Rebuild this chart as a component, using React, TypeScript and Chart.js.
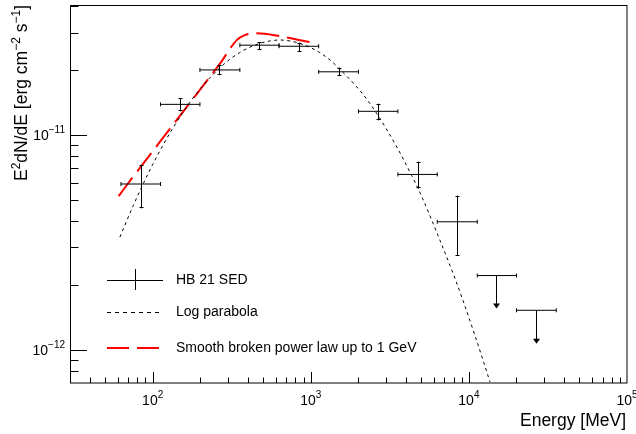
import React, { useEffect, useRef } from "react";
import { Chart, registerables } from "chart.js";

Chart.register(...registerables);

// ---- SED data points (HB 21) ----
const sedEnergy = [84.8, 149.6, 263, 471, 839, 1503, 2667, 4732, 8395];
const sedBinLow = [63, 112, 199, 356, 630, 1122, 2004, 3556, 6310];
const sedBinHigh = [112, 199, 356, 630, 1122, 2004, 3556, 6310, 11300];
const sedFlux = [5.92e-12, 1.39e-11, 2.01e-11, 2.62e-11, 2.59e-11, 1.97e-11, 1.29e-11, 6.56e-12, 3.95e-12];
const sedFluxHigh = [7.27e-12, 1.48e-11, 2.12e-11, 2.7e-11, 2.69e-11, 2.06e-11, 1.4e-11, 7.52e-12, 5.22e-12];
const sedFluxLow = [4.56e-12, 1.29e-11, 1.9e-11, 2.5e-11, 2.44e-11, 1.88e-11, 1.17e-11, 5.65e-12, 2.75e-12];

// ---- Upper limits ----
const ulEnergy = [14900, 26550];
const ulBinLow = [11300, 20000];
const ulBinHigh = [20000, 35700];
const ulFlux = [2.22e-12, 1.53e-12];
const ulArrowTip = [1.56e-12, 1.07e-12];

// ---- Log parabola model curve ----
const logParEnergy = [62, 75, 85, 100, 111, 134, 163, 200, 229, 270, 307, 355, 410, 476, 550, 636, 740, 851, 1000, 1140, 1330, 1530, 1800, 2150, 2670, 3500, 4340, 5020, 6550, 8000, 9200, 11000, 13600];
const logParFlux = [3.35e-12, 4.66e-12, 5.71e-12, 7.29e-12, 8.44e-12, 1.076e-11, 1.343e-11, 1.644e-11, 1.841e-11, 2.075e-11, 2.25e-11, 2.42e-11, 2.56e-11, 2.67e-11, 2.74e-11, 2.77e-11, 2.74e-11, 2.67e-11, 2.55e-11, 2.42e-11, 2.23e-11, 2.02e-11, 1.79e-11, 1.54e-11, 1.23e-11, 8.8e-12, 6.5e-12, 5.2e-12, 3.25e-12, 2.24e-12, 1.69e-12, 1.15e-12, 7.1e-13];

// ---- Smooth broken power law (up to 1 GeV) ----
const sbplEnergy = [60.9, 75, 98.1, 128.1, 171.5, 229.5, 273.4, 307.2, 340.2, 382.2, 442.2, 511.5, 636.6, 812.2, 985.6];
const sbplFlux = [5.2e-12, 6.38e-12, 8.25e-12, 1.066e-11, 1.409e-11, 1.861e-11, 2.209e-11, 2.512e-11, 2.766e-11, 2.918e-11, 2.975e-11, 2.965e-11, 2.886e-11, 2.786e-11, 2.707e-11];

// ---- Axes ----
const xMin = 30;
const xMax = 1e5;
const yMin = 7.02e-13;
const yMax = 4.03e-11;
const xMajorTicks = [100, 1000, 10000, 100000];
const xTickExponents = ["2", "3", "4", "5"];
const yMajorTicks = [1e-12, 1e-11];
const yTickExponents = ["\u221212", "\u221211"];

const legendLabels = ["HB 21 SED", "Log parabola", "Smooth broken power law up to 1 GeV"];
const xTitle = [{ t: "Energy [MeV]" }];
const yTitle = [
  { t: "E" },
  { t: "2", sup: true },
  { t: "dN/dE [erg cm" },
  { t: "\u22122", sup: true },
  { t: " s" },
  { t: "\u22121", sup: true },
  { t: "]" },
];

const FONT = '"Liberation Sans", Arial, Helvetica, sans-serif';

type Seg = { t: string; sup?: boolean };

function drawRich(
  ctx: CanvasRenderingContext2D,
  segs: Seg[],
  x: number,
  y: number,
  size: number,
  supSize: number,
  supRaise: number,
  align: "left" | "right" | "center"
) {
  const widths = segs.map((s) => {
    ctx.font = `${s.sup ? supSize : size}px ${FONT}`;
    return ctx.measureText(s.t).width;
  });
  const total = widths.reduce((a, b) => a + b, 0);
  let cx = align === "left" ? x : align === "right" ? x - total : x - total / 2;
  ctx.textAlign = "left";
  ctx.textBaseline = "alphabetic";
  segs.forEach((s, i) => {
    ctx.font = `${s.sup ? supSize : size}px ${FONT}`;
    ctx.fillText(s.t, cx, s.sup ? y - supRaise : y);
    cx += widths[i];
  });
}

const rootPlugin = {
  id: "rootStyle",
  afterDatasetsDraw(chart: any) {
    const ctx: CanvasRenderingContext2D = chart.ctx;
    const xs = chart.scales.x;
    const ys = chart.scales.y;
    const { left, right, top, bottom } = chart.chartArea;
    ctx.save();
    ctx.beginPath();
    ctx.rect(left, top, right - left, bottom - top);
    ctx.clip();
    ctx.strokeStyle = "#000";
    ctx.fillStyle = "#000";
    ctx.lineWidth = 1;
    const cap = 2;
    // SED error bars
    sedEnergy.forEach((e, i) => {
      const px = xs.getPixelForValue(e);
      const py = ys.getPixelForValue(sedFlux[i]);
      const xl = xs.getPixelForValue(sedBinLow[i]);
      const xh = xs.getPixelForValue(sedBinHigh[i]);
      const yh = ys.getPixelForValue(sedFluxHigh[i]);
      const yl = ys.getPixelForValue(sedFluxLow[i]);
      ctx.beginPath();
      ctx.moveTo(xl, py);
      ctx.lineTo(xh, py);
      ctx.moveTo(xl, py - cap);
      ctx.lineTo(xl, py + cap);
      ctx.moveTo(xh, py - cap);
      ctx.lineTo(xh, py + cap);
      const vx = Math.round(px) + 0.5;
      ctx.moveTo(vx, yh);
      ctx.lineTo(vx, yl);
      ctx.moveTo(vx - cap, Math.round(yh) + 0.5);
      ctx.lineTo(vx + cap, Math.round(yh) + 0.5);
      ctx.moveTo(vx - cap, Math.round(yl) - 0.5);
      ctx.lineTo(vx + cap, Math.round(yl) - 0.5);
      ctx.stroke();
    });
    // Upper limits
    ulEnergy.forEach((e, i) => {
      const px = Math.round(xs.getPixelForValue(e)) + 0.5;
      const py = ys.getPixelForValue(ulFlux[i]);
      const xl = xs.getPixelForValue(ulBinLow[i]);
      const xh = xs.getPixelForValue(ulBinHigh[i]);
      const tip = ys.getPixelForValue(ulArrowTip[i]);
      ctx.beginPath();
      ctx.moveTo(xl, py);
      ctx.lineTo(xh, py);
      ctx.moveTo(xl, py - cap);
      ctx.lineTo(xl, py + cap);
      ctx.moveTo(xh, py - cap);
      ctx.lineTo(xh, py + cap);
      ctx.moveTo(px, py);
      ctx.lineTo(px, tip - 4);
      ctx.stroke();
      ctx.beginPath();
      ctx.moveTo(px - 3.5, tip - 5);
      ctx.lineTo(px + 3.5, tip - 5);
      ctx.lineTo(px, tip);
      ctx.closePath();
      ctx.fill();
    });
    ctx.restore();
  },
  afterDraw(chart: any) {
    const ctx: CanvasRenderingContext2D = chart.ctx;
    const xs = chart.scales.x;
    const ys = chart.scales.y;
    const { left, right, top, bottom } = chart.chartArea;
    ctx.save();
    ctx.strokeStyle = "#000";
    ctx.fillStyle = "#000";
    ctx.lineWidth = 1;
    // frame
    ctx.strokeRect(left + 0.5, top + 0.5, right - left - 0.5, bottom - top - 0.5);
    // x ticks
    ctx.beginPath();
    for (let d = 1; d <= 5; d++) {
      for (let m = 1; m <= 9; m++) {
        const v = m * Math.pow(10, d);
        if (v <= xMin || v >= xMax) continue;
        const px = Math.round(xs.getPixelForValue(v)) + 0.5;
        const len = m === 1 ? 11 : 5.5;
        ctx.moveTo(px, bottom);
        ctx.lineTo(px, bottom - len);
      }
    }
    // y ticks
    for (let d = -13; d <= -10; d++) {
      for (let m = 1; m <= 9; m++) {
        const v = m * Math.pow(10, d);
        if (v <= yMin || v >= yMax) continue;
        const py = Math.round(ys.getPixelForValue(v)) + 0.5;
        const len = m === 1 ? 17 : 8.5;
        ctx.moveTo(left, py);
        ctx.lineTo(left + len, py);
      }
    }
    ctx.stroke();
    // x tick labels
    xMajorTicks.forEach((v, i) => {
      const px = xs.getPixelForValue(v);
      drawRich(ctx, [{ t: "10" }, { t: xTickExponents[i], sup: true }], px, bottom + 22, 14, 10, 7, "center");
    });
    // y tick labels
    yMajorTicks.forEach((v, i) => {
      const py = ys.getPixelForValue(v);
      drawRich(ctx, [{ t: "10" }, { t: yTickExponents[i], sup: true }], left - 5, py + 5, 14, 10, 7, "right");
    });
    // axis titles
    drawRich(ctx, xTitle, right - 1, 426, 17.5, 12, 7, "right");
    ctx.save();
    ctx.translate(27, top);
    ctx.rotate(-Math.PI / 2);
    drawRich(ctx, yTitle, 0, 0, 17.5, 12, 7, "right");
    ctx.restore();

    // legend
    const lx0 = 107;
    const lx1 = 163;
    const tx = 176;
    const rows = [280, 312, 348];
    ctx.beginPath();
    ctx.moveTo(lx0, rows[0] + 0.5);
    ctx.lineTo(lx1, rows[0] + 0.5);
    ctx.moveTo(135.5, rows[0] - 11);
    ctx.lineTo(135.5, rows[0] + 10);
    ctx.stroke();
    ctx.save();
    ctx.setLineDash([4, 4]);
    ctx.beginPath();
    ctx.moveTo(lx0, rows[1] + 0.5);
    ctx.lineTo(lx1, rows[1] + 0.5);
    ctx.stroke();
    ctx.strokeStyle = "#ff0000";
    ctx.lineWidth = 2;
    ctx.setLineDash([22, 8]);
    ctx.beginPath();
    ctx.moveTo(lx0, rows[2]);
    ctx.lineTo(lx1, rows[2]);
    ctx.stroke();
    ctx.restore();
    ctx.font = `14px ${FONT}`;
    ctx.textAlign = "left";
    ctx.textBaseline = "middle";
    legendLabels.forEach((t, i) => ctx.fillText(t, tx, rows[i]));
    ctx.restore();
  },
};

export default function App() {
  const ref = useRef<HTMLCanvasElement | null>(null);
  useEffect(() => {
    if (!ref.current) return;
    const chart = new Chart(ref.current, {
      type: "line",
      data: {
        datasets: [
          {
            label: legendLabels[1],
            data: logParEnergy.map((x, i) => ({ x, y: logParFlux[i] })),
            borderColor: "#000000",
            borderWidth: 1,
            borderDash: [3, 3.5],
            pointRadius: 0,
            fill: false,
            cubicInterpolationMode: "monotone",
            order: 1,
          },
          {
            label: legendLabels[2],
            data: sbplEnergy.map((x, i) => ({ x, y: sbplFlux[i] })),
            borderColor: "#ff0000",
            borderWidth: 2,
            borderDash: [23, 8],
            pointRadius: 0,
            fill: false,
            cubicInterpolationMode: "monotone",
            order: 2,
          },
          {
            label: legendLabels[0],
            data: sedEnergy.map((x, i) => ({ x, y: sedFlux[i] })),
            showLine: false,
            pointRadius: 0,
            order: 0,
          },
        ],
      },
      options: {
        animation: false,
        responsive: false,
        maintainAspectRatio: false,
        layout: { padding: { left: 70, top: 5, right: 9, bottom: 51 } },
        scales: {
          x: { type: "logarithmic", min: xMin, max: xMax, display: false },
          y: { type: "logarithmic", min: yMin, max: yMax, display: false },
        },
        plugins: { legend: { display: false }, tooltip: { enabled: false } },
      },
      plugins: [rootPlugin],
    } as any);
    return () => chart.destroy();
  }, []);
  return (
    <div style={{ position: "absolute", left: 0, top: 0, width: 636, height: 434, background: "#fff" }}>
      <canvas ref={ref} width={636} height={434} style={{ display: "block", width: 636, height: 434 }} />
    </div>
  );
}
